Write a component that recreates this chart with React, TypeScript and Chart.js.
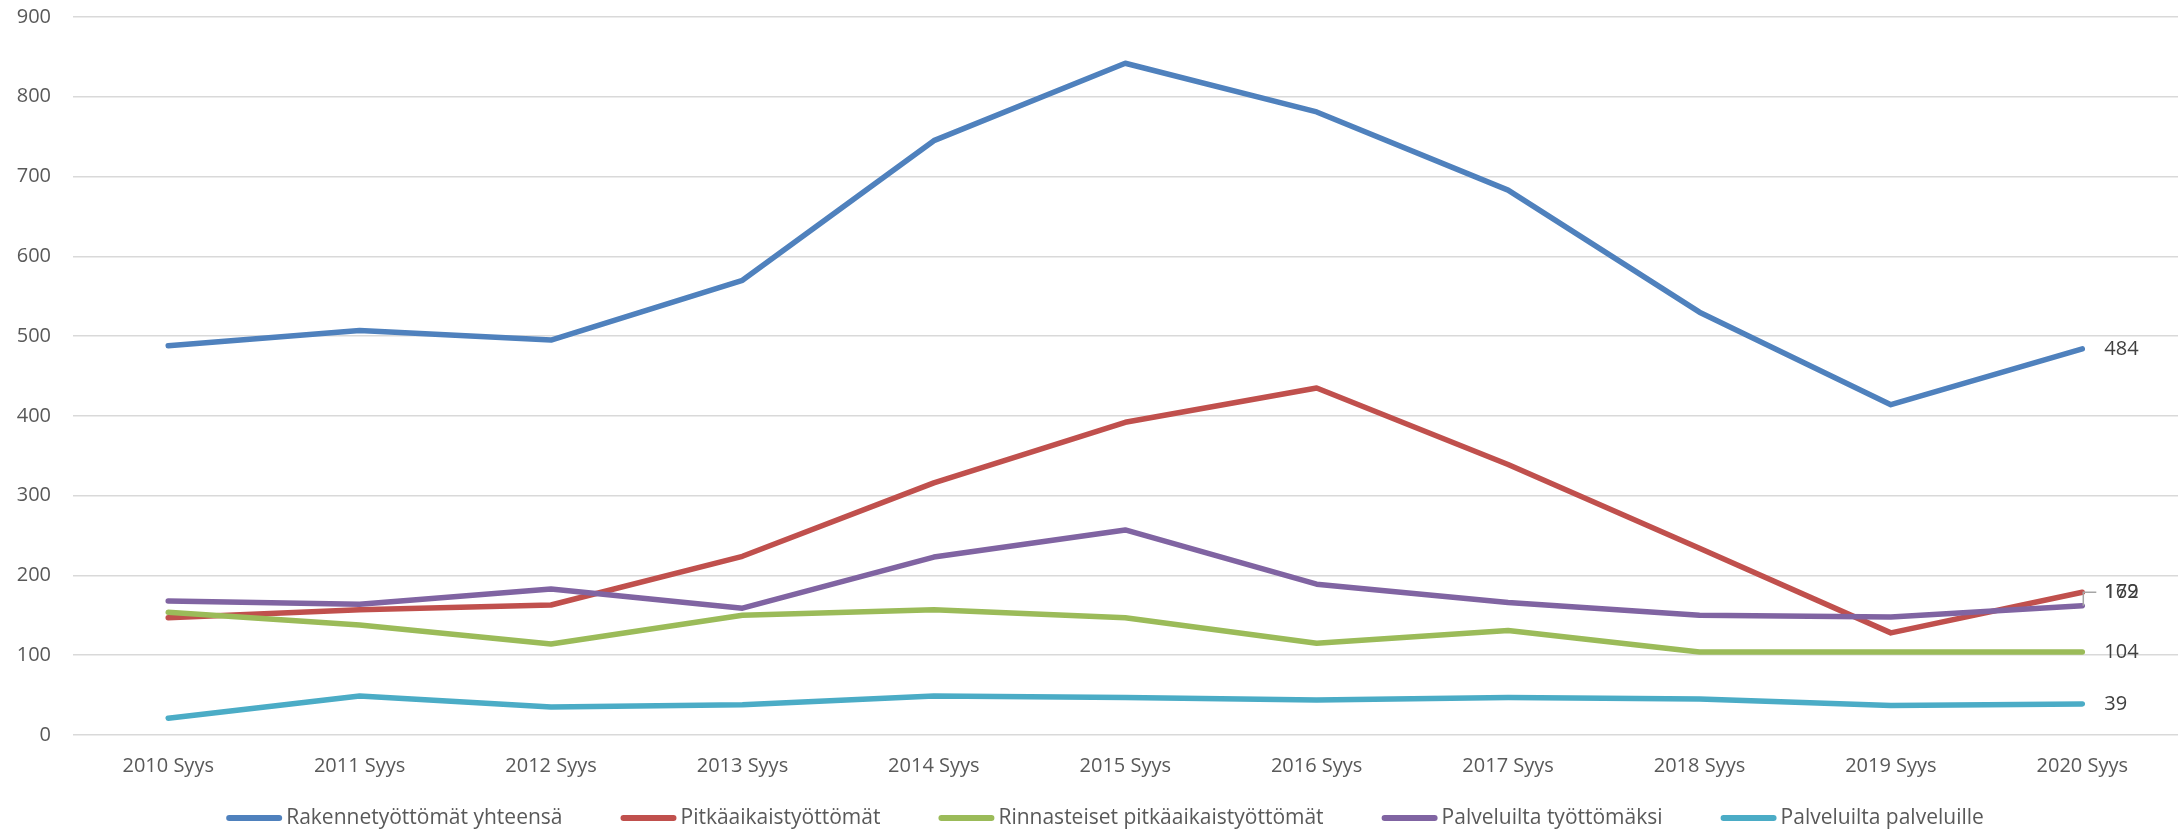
import React, { useEffect, useRef } from 'react';
import { Chart, registerables } from 'chart.js';

Chart.register(...registerables);

const categories = [
  '2010 Syys', '2011 Syys', '2012 Syys', '2013 Syys', '2014 Syys', '2015 Syys',
  '2016 Syys', '2017 Syys', '2018 Syys', '2019 Syys', '2020 Syys',
];

const seriesNames = [
  'Rakennetyöttömät yhteensä',
  'Pitkäaikaistyöttömät',
  'Rinnasteiset pitkäaikaistyöttömät',
  'Palveluilta työttömäksi',
  'Palveluilta palveluille',
];

const rakennetyottomat = [488, 507, 495, 570, 745, 842, 781, 683, 530, 414, 484];
const pitkaaikaistyottomat = [147, 157, 163, 224, 316, 392, 435, 339, 234, 128, 179];
const rinnasteiset = [154, 138, 114, 150, 157, 147, 115, 131, 104, 104, 104];
const palveluiltaTyottomaksi = [168, 164, 183, 159, 223, 257, 189, 166, 150, 148, 162];
const palveluiltaPalveluille = [21, 49, 35, 38, 49, 47, 44, 47, 45, 37, 39];

const yTicks = [0, 100, 200, 300, 400, 500, 600, 700, 800, 900];

const seriesValues = [
  rakennetyottomat,
  pitkaaikaistyottomat,
  rinnasteiset,
  palveluiltaTyottomaksi,
  palveluiltaPalveluille,
];

const colors = ['#4f81bd', '#c0504d', '#9bbb59', '#8064a2', '#4bacc6'];

const FONT = "'Open Sans', 'Noto Sans', sans-serif";

const endLabelPlugin = {
  id: 'endLabels',
  afterDatasetsDraw(chart: any) {
    const ctx = chart.ctx;
    ctx.save();
    ctx.font = `20px ${FONT}`;
    ctx.fillStyle = '#404040';
    ctx.textBaseline = 'middle';
    ctx.textAlign = 'left';
    const redMeta = chart.getDatasetMeta(1);
    const redLast = redMeta.data[redMeta.data.length - 1];
    chart.data.datasets.forEach((ds: any, i: number) => {
      const meta = chart.getDatasetMeta(i);
      const pt = meta.data[meta.data.length - 1];
      const v = ds.data[ds.data.length - 1];
      let y = pt.y;
      if (i === 3) {
        y = redLast.y;
        ctx.strokeStyle = '#a6a6a6';
        ctx.lineWidth = 1.5;
        ctx.beginPath();
        ctx.moveTo(pt.x + 1, pt.y);
        ctx.lineTo(pt.x + 1, y);
        ctx.lineTo(pt.x + 14, y);
        ctx.stroke();
      }
      ctx.fillText(String(v), pt.x + 22, y);
    });
    ctx.restore();
  },
};

const legendPlugin = {
  id: 'customLegend',
  afterDraw(chart: any) {
    const ctx = chart.ctx;
    ctx.save();
    ctx.font = `21px ${FONT}`;
    const swatch = 56;
    const gap = 4;
    const itemGap = 58;
    const widths = seriesNames.map((n) => ctx.measureText(n).width);
    const total =
      widths.reduce((a, w) => a + swatch + gap + w, 0) + itemGap * (seriesNames.length - 1);
    let x = 1105 - total / 2;
    const y = 818;
    ctx.textBaseline = 'middle';
    ctx.textAlign = 'left';
    seriesNames.forEach((name, i) => {
      ctx.strokeStyle = colors[i];
      ctx.lineWidth = 6;
      ctx.lineCap = 'round';
      ctx.beginPath();
      ctx.moveTo(x + 3, y);
      ctx.lineTo(x + swatch - 3, y);
      ctx.stroke();
      ctx.fillStyle = '#595959';
      ctx.fillText(name, x + swatch + gap, y);
      x += swatch + gap + widths[i] + itemGap;
    });
    ctx.restore();
  },
};

export default function App() {
  const canvasRef = useRef<HTMLCanvasElement | null>(null);

  useEffect(() => {
    if (!canvasRef.current) return;
    const chart = new Chart(canvasRef.current, {
      type: 'line',
      data: {
        labels: categories,
        datasets: seriesNames.map((name, i) => ({
          label: name,
          data: seriesValues[i],
          borderColor: colors[i],
          backgroundColor: colors[i],
          borderWidth: 5.5,
          pointRadius: 0,
          pointHoverRadius: 0,
          tension: 0,
          borderCapStyle: 'round',
          borderJoinStyle: 'round',
          fill: false,
          order: 5 - i,
        })),
      },
      options: {
        animation: false,
        responsive: true,
        maintainAspectRatio: false,
        layout: { padding: { left: 16, right: 5, top: 17, bottom: 54 } },
        scales: {
          x: {
            offset: true,
            grid: { display: false, drawTicks: false },
            border: { display: false },
            ticks: {
              color: '#595959',
              font: { size: 20, family: FONT },
              padding: 19,
              maxRotation: 0,
              autoSkip: false,
            },
            afterFit: (scale: any) => {
              scale.height = 43;
            },
          },
          y: {
            min: 0,
            max: 900,
            afterBuildTicks: (scale: any) => {
              scale.ticks = yTicks.map((v) => ({ value: v }));
            },
            afterFit: (scale: any) => {
              scale.width = 56.5;
              scale.paddingTop = 0;
              scale.paddingBottom = 0;
            },
            grid: { color: '#d9d9d9', lineWidth: 1.5, drawTicks: false },
            border: { display: false },
            ticks: {
              color: '#595959',
              font: { size: 20, family: FONT },
              padding: 21.5,
            },
          },
        },
        plugins: {
          tooltip: { enabled: false },
          legend: { display: false },
        },
      },
      plugins: [endLabelPlugin, legendPlugin],
    } as any);
    return () => chart.destroy();
  }, []);

  return (
    <div style={{ position: 'absolute', left: 0, top: 0, width: 2183, height: 832, background: '#fff' }}>
      <canvas ref={canvasRef} />
    </div>
  );
}
